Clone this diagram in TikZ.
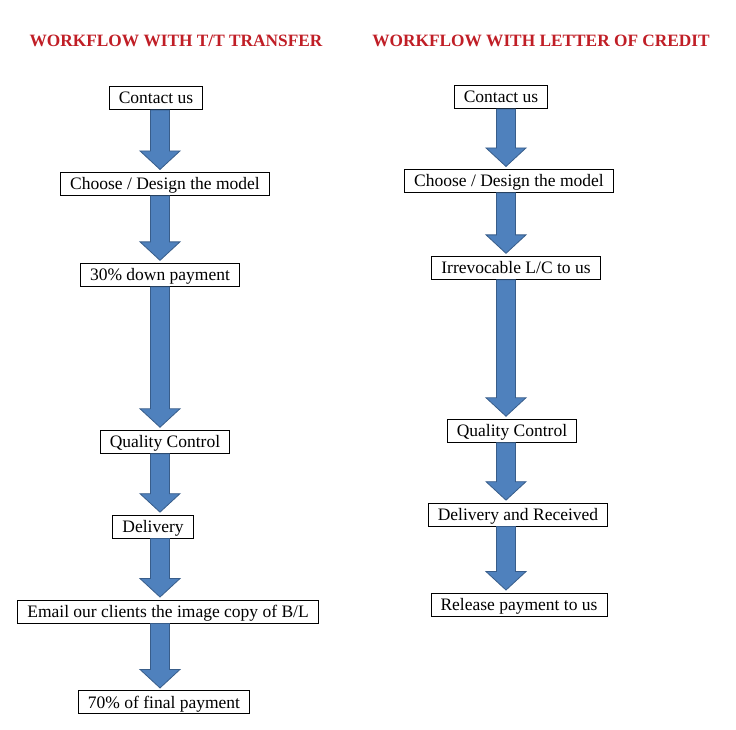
\documentclass[tikz,border=0pt]{standalone}
\usepackage{fontspec}
\setmainfont{Liberation Serif}
\usetikzlibrary{positioning, calc}

\definecolor{titlered}{RGB}{192,30,38}
\definecolor{arrowblue}{RGB}{79,129,189}
\definecolor{arrowedge}{RGB}{56,93,138}

\newcommand{\flowarrow}[3]{%
  \draw[bluearrow] let \p0=(#1), \p1=(#2.south), \p2=(#3.north) in
    (\x0-9.5pt,\y1) -- (\x0+9.5pt,\y1) -- (\x0+9.5pt,\y2+21pt)
    -- (\x0+20pt,\y2+21pt) -- (\x0,\y2+2.5pt) -- (\x0-20pt,\y2+21pt)
    -- (\x0-9.5pt,\y2+21pt) -- cycle;}

\begin{document}
\begin{tikzpicture}[
    x=1pt, y=-1pt,
    node distance=62pt,
    title/.style={font=\fontsize{17.3}{20}\selectfont\bfseries, text=titlered},
    box/.style={rectangle, draw, line width=0.9pt, font=\fontsize{17.5}{20}\selectfont, inner xsep=9.5pt, inner ysep=0pt, text height=13pt, text depth=1pt, minimum height=23pt},
    bluearrow/.style={fill=arrowblue, draw=arrowedge, line width=0.8pt, line join=miter}
]
\useasboundingbox (0,0) rectangle (736,730);

\node[title] (tttitle) at (176,41) {WORKFLOW WITH T/T TRANSFER};
\node[title] (lctitle) at (541,41) {WORKFLOW WITH LETTER OF CREDIT};

\coordinate (ttcol) at (160,0);
\coordinate (lccol) at (506,0);

\node[box] (ttcontact) at (156,98) {Contact us};
\node[box, below=62pt of ttcontact, xshift=9pt] (ttchoose) {Choose / Design the model};
\node[box, below=67pt of ttchoose, xshift=-5pt] (ttdown) {30\% down payment};
\node[box, below=143pt of ttdown, xshift=5pt] (ttquality) {Quality Control};
\node[box, below=61pt of ttquality, xshift=-12pt] (ttdelivery) {Delivery};
\node[box, below=61pt of ttdelivery, xshift=15pt] (ttemail) {Email our clients the image copy of B/L};
\node[box, below=67pt of ttemail, xshift=-4pt] (ttfinal) {70\% of final payment};

\node[box] (lccontact) at (501,97) {Contact us};
\node[box, below=60pt of lccontact, xshift=8pt] (lcchoose) {Choose / Design the model};
\node[box, below=63pt of lcchoose, xshift=7pt] (lcopen) {Irrevocable L/C to us};
\node[box, below=139pt of lcopen, xshift=-4pt] (lcquality) {Quality Control};
\node[box, below=60pt of lcquality, xshift=6pt] (lcdelivery) {Delivery and Received};
\node[box, below=66pt of lcdelivery, xshift=1pt] (lcrelease) {Release payment to us};

\flowarrow{ttcol}{ttcontact}{ttchoose}
\flowarrow{ttcol}{ttchoose}{ttdown}
\flowarrow{ttcol}{ttdown}{ttquality}
\flowarrow{ttcol}{ttquality}{ttdelivery}
\flowarrow{ttcol}{ttdelivery}{ttemail}
\flowarrow{ttcol}{ttemail}{ttfinal}

\flowarrow{lccol}{lccontact}{lcchoose}
\flowarrow{lccol}{lcchoose}{lcopen}
\flowarrow{lccol}{lcopen}{lcquality}
\flowarrow{lccol}{lcquality}{lcdelivery}
\flowarrow{lccol}{lcdelivery}{lcrelease}
\end{tikzpicture}
\end{document}
